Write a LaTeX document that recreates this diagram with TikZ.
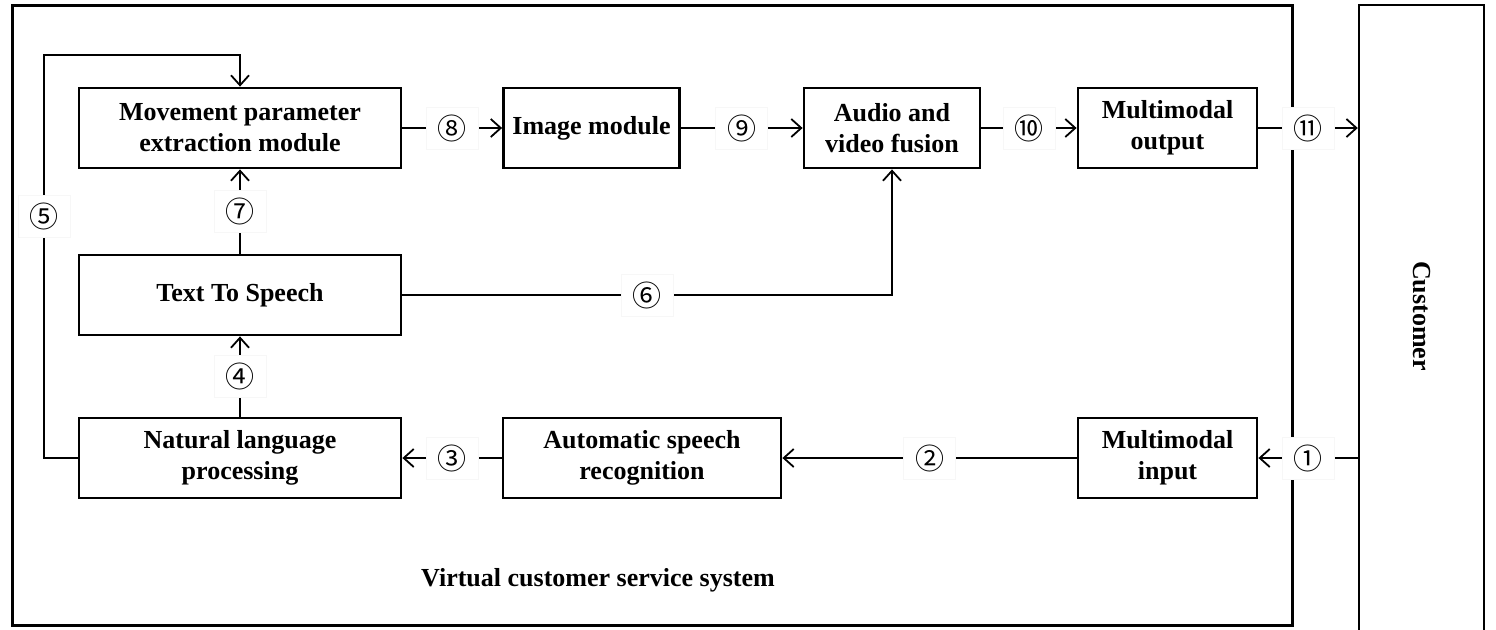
\documentclass[tikz,border=0pt]{standalone}
\usepackage{fontspec}
\setmainfont{Liberation Serif}
\newfontfamily\circfont{Noto Sans CJK SC}
\usetikzlibrary{arrows.meta}
\begin{document}
\begin{tikzpicture}[x=0.5pt,y=-0.5pt,
  lbl/.style={font=\fontsize{13}{15.5}\selectfont\bfseries},
  block/.style={lbl,draw,line width=1.4pt,align=center,inner sep=0pt,minimum height=40pt},
  frame/.style={draw,line width=1.5pt,inner sep=0pt},
  tag/.style={fill=white,draw=black!3,line width=0.3pt,inner sep=0pt,
    minimum width=26pt,minimum height=21pt,font=\circfont\fontsize{14.5}{14.5}\selectfont},
  flow/.style={line width=0.9pt,-{Straight Barb[length=5pt,width=9pt]}},
  link/.style={line width=0.9pt}]
\clip (0,0) rectangle (1496,629);
\fill[white] (0,0) rectangle (1496,629);

% outer frames
\node[frame,minimum width=640pt,minimum height=310pt] (sys) at (652,315) {};
\node[lbl] (syslabel) at (598,580) {Virtual customer service system};
\node[frame,line width=1.2pt,minimum width=62.5pt,minimum height=330pt] (cust) at (1421.5,335) {};
\node[lbl,rotate=-90] (custname) at (1422,316) {Customer};

% processing blocks
\node[block,minimum width=161pt] (move) at (240,128) {Movement parameter\\extraction module};
\node[block,minimum width=88pt] (img) at (591.5,128) {Image module};
\node[block,minimum width=88pt] (fuse) at (892,128) {Audio and\\video fusion};
\node[block,minimum width=89.5pt] (out) at (1167.5,128) {Multimodal\\output};
\node[block,minimum width=161pt] (tts) at (240,295) {Text To Speech};
\node[block,minimum width=161pt] (nlp) at (240,458) {Natural language\\processing};
\node[block,minimum width=139pt] (asr) at (642,458) {Automatic speech\\recognition};
\node[block,minimum width=89.5pt] (inp) at (1167.5,458) {Multimodal\\input};

% connectors
\draw[flow] (inp -| cust.west) -- node[tag] (t1) {①} (inp.east);
\draw[flow] (inp.west) -- node[tag] (t2) {②} (asr.east);
\draw[flow] (asr.west) -- node[tag] (t3) {③} (nlp.east);
\draw[flow] (nlp.north) -- node[tag] (t4) {④} (tts.south);
\coordinate (loop) at (44,55);
\draw[flow] (nlp.west) -| node[tag,pos=0.8] (t5) {⑤} (loop) -| (move.north);
\draw[flow] (tts.east) -| node[tag,pos=0.25] (t6) {⑥} (fuse.south);
\draw[flow] (tts.north) -- node[tag] (t7) {⑦} (move.south);
\draw[flow] (move.east) -- node[tag] (t8) {⑧} (img.west);
\draw[flow] (img.east) -- node[tag] (t9) {⑨} (fuse.west);
\draw[flow] (fuse.east) -- node[tag] (t10) {⑩} (out.west);
\draw[flow] (out.east) -- node[tag] (t11) {⑪} (out -| cust.west);
\end{tikzpicture}
\end{document}
